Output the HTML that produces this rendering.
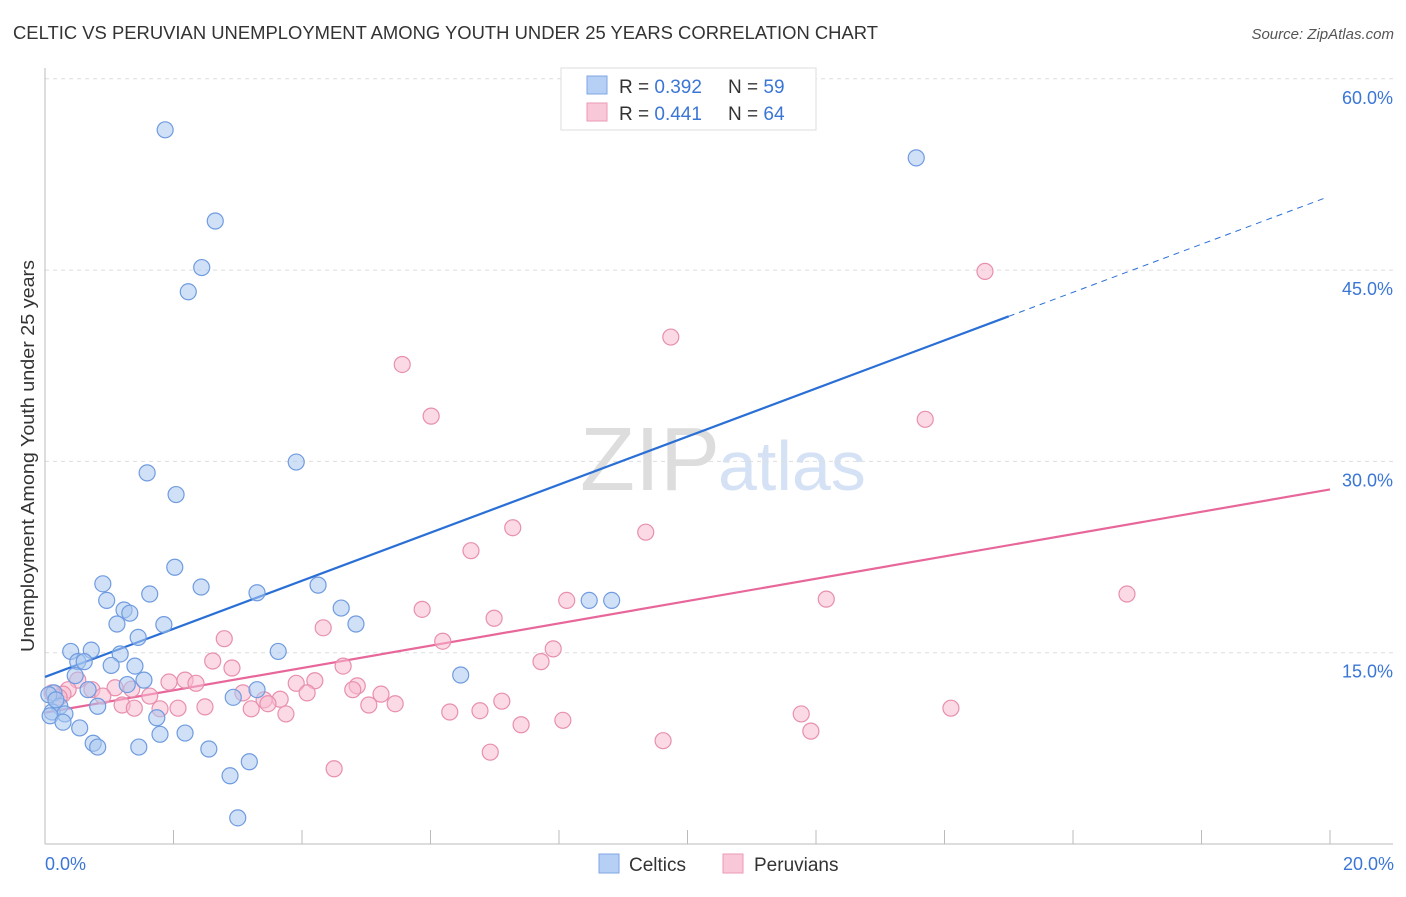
<!DOCTYPE html>
<html><head><meta charset="utf-8"><style>
body{margin:0;background:#fff;font-family:"Liberation Sans",sans-serif;}
svg text{font-family:"Liberation Sans",sans-serif;}
</style></head><body>
<svg id="chart" width="1406" height="892" xmlns="http://www.w3.org/2000/svg">
<text x="13" y="39" font-size="18" fill="#333" textLength="865" lengthAdjust="spacingAndGlyphs">CELTIC VS PERUVIAN UNEMPLOYMENT AMONG YOUTH UNDER 25 YEARS CORRELATION CHART</text>
<text x="1394" y="39" font-size="15" fill="#555" text-anchor="end" font-style="italic">Source: ZipAtlas.com</text>
<text x="720" y="490" font-size="90" fill="#ddd" text-anchor="end" font-family="Liberation Serif">ZIP</text>
<text x="718" y="490" font-size="70" fill="#d5e2f5">atlas</text>
<g id="grid"></g><g id="axes"></g><g id="lines"></g><g id="points"></g>
<text transform="translate(34,456) rotate(-90)" font-size="18" fill="#333" text-anchor="middle" textLength="392" lengthAdjust="spacingAndGlyphs">Unemployment Among Youth under 25 years</text>
<text x="45" y="870" font-size="18" fill="#3a76d6">0.0%</text>
<text x="1394" y="870" font-size="18" fill="#3a76d6" text-anchor="end">20.0%</text>
<g>
<rect x="561" y="68" width="255" height="62" fill="#fff" stroke="#ddd"/>
<rect x="587" y="76" width="20" height="18" fill="#b5d0f4" stroke="#7fa6e3"/>
<rect x="587" y="103" width="20" height="18" fill="#f9c8d8" stroke="#ec9ab7"/>
<text x="619" y="93" font-size="19" fill="#333">R = <tspan fill="#3a76d6">0.392</tspan></text>
<text x="728" y="93" font-size="19" fill="#333">N = <tspan fill="#3a76d6">59</tspan></text>
<text x="619" y="120" font-size="19" fill="#333">R = <tspan fill="#3a76d6">0.441</tspan></text>
<text x="728" y="120" font-size="19" fill="#333">N = <tspan fill="#3a76d6">64</tspan></text>
</g>
<g>
<rect x="599" y="854" width="20" height="19" fill="#b5d0f4" stroke="#7fa6e3"/>
<text x="629" y="871" font-size="19" fill="#333">Celtics</text>
<rect x="723" y="854" width="20" height="19" fill="#f9c8d8" stroke="#ec9ab7"/>
<text x="754" y="871" font-size="19" fill="#333">Peruvians</text>
</g>
</svg>
<script>
const yTicks=[15,30,45,60];
const yTickLabels=["15.0%","30.0%","45.0%","60.0%"];
const xTicks=[2,4,6,8,10,12,14,16,18,20];
const celticX=[1.87,13.56,2.65,2.44,2.23,3.91,1.59,2.04,2.02,0.90,2.43,1.63,0.96,3.30,4.25,1.23,1.32,1.12,1.85,4.61,4.84,1.45,0.40,0.72,3.63,1.17,0.51,0.61,1.03,1.40,0.47,6.47,1.54,1.28,0.67,0.14,3.30,2.93,0.23,0.82,0.11,0.31,0.08,0.28,0.54,1.74,2.18,1.79,0.75,0.82,1.46,2.55,3.18,2.88,3.00,8.47,8.82,0.06,0.17];
const celticY=[56.0,53.8,48.85,45.2,43.3,29.95,29.1,27.4,21.7,20.4,20.15,19.6,19.1,19.7,20.3,18.35,18.1,17.25,17.2,18.5,17.25,16.2,15.1,15.2,15.1,14.9,14.3,14.3,14.0,13.95,13.2,13.25,12.85,12.5,12.1,11.85,12.1,11.5,10.8,10.8,10.35,10.2,10.05,9.55,9.1,9.9,8.7,8.6,7.9,7.6,7.6,7.45,6.45,5.35,2.05,19.1,19.1,11.7,11.3];
const peruX=[14.63,9.74,5.56,6.01,13.70,7.28,9.35,6.63,16.84,12.16,8.12,5.87,6.99,4.33,7.91,6.19,2.79,7.72,2.61,2.91,4.64,0.51,4.20,3.91,4.86,4.79,5.23,1.93,2.18,2.35,4.08,3.66,3.08,3.41,3.47,1.63,1.09,1.35,0.73,0.36,0.28,0.22,0.90,1.20,1.39,1.79,2.07,2.49,3.21,3.75,5.04,5.45,6.30,6.77,7.11,11.77,14.10,7.41,8.06,11.92,6.93,9.62,4.50,0.11];
const peruY=[44.9,39.75,37.6,33.55,33.3,24.8,24.45,23.0,19.6,19.2,19.1,18.4,17.7,16.95,15.3,15.9,16.1,14.3,14.35,13.8,13.95,12.85,12.8,12.6,12.4,12.1,11.75,12.7,12.85,12.6,11.85,11.35,11.85,11.3,11.0,11.6,12.25,12.15,12.1,12.1,11.75,11.5,11.6,10.9,10.65,10.6,10.65,10.75,10.6,10.2,10.9,11.0,10.35,10.45,11.2,10.2,10.65,9.35,9.7,8.85,7.2,8.1,5.9,11.85];
const celticTrend=[13.1,50.8];
const peruTrend=[10.3,27.8];
const NS="http://www.w3.org/2000/svg";
const X=v=>45+v/20*1285;
const Y=v=>844-v/15*191.3;
function mk(tag,attrs,parent){const e=document.createElementNS(NS,tag);for(const k in attrs)e.setAttribute(k,attrs[k]);parent.appendChild(e);return e;}
const grid=document.getElementById('grid'),axes=document.getElementById('axes'),lines=document.getElementById('lines'),pts=document.getElementById('points');
yTicks.forEach((t,i)=>{
 const l=mk('line',{x1:45,x2:1393,y1:Y(t),y2:Y(t),stroke:'#ddd','stroke-dasharray':'4,4'},grid);
 
 
 const tx=mk('text',{x:1393,y:Y(t)+25,'font-size':18,fill:'#3a76d6','text-anchor':'end'},grid);
 tx.textContent=yTickLabels[i];
 
 
});
const ya=mk('line',{x1:45,x2:45,y1:68,y2:844,stroke:'#bbb'},axes);


const xa=mk('line',{x1:45,x2:1393,y1:844,y2:844,stroke:'#bbb'},axes);


xTicks.forEach(t=>{
 const l=mk('line',{x1:X(t),x2:X(t),y1:830,y2:844,stroke:'#bbb'},axes);
 
 
});
function drawPts(xs,ys,fill,stroke,name){
 xs.forEach((x,i)=>{
  const c=mk('circle',{cx:X(x),cy:Y(ys[i]),r:8,fill:fill,'fill-opacity':0.55,stroke:stroke,'stroke-width':1.2},pts);
  
  
 });
}
drawPts(peruX,peruY,'#f7bcd0','#e88fae','peruvian-point');
drawPts(celticX,celticY,'#a9c8f0','#6f9be0','celtic-point');
const cMid=celticTrend[0]+(celticTrend[1]-celticTrend[0])*15/20;
const bl=mk('line',{x1:X(0),y1:Y(celticTrend[0]),x2:X(15),y2:Y(cMid),stroke:'#2a6fd6','stroke-width':2.2},lines);


const bd=mk('line',{x1:X(15),y1:Y(cMid),x2:X(19.95),y2:Y(celticTrend[0]+(celticTrend[1]-celticTrend[0])*19.95/20),stroke:'#2a6fd6','stroke-width':1,'stroke-dasharray':'6,5'},lines);


const pl=mk('line',{x1:X(0),y1:Y(peruTrend[0]),x2:X(20),y2:Y(peruTrend[1]),stroke:'#e8679a','stroke-width':2.2},lines);


</script>
</body></html>
